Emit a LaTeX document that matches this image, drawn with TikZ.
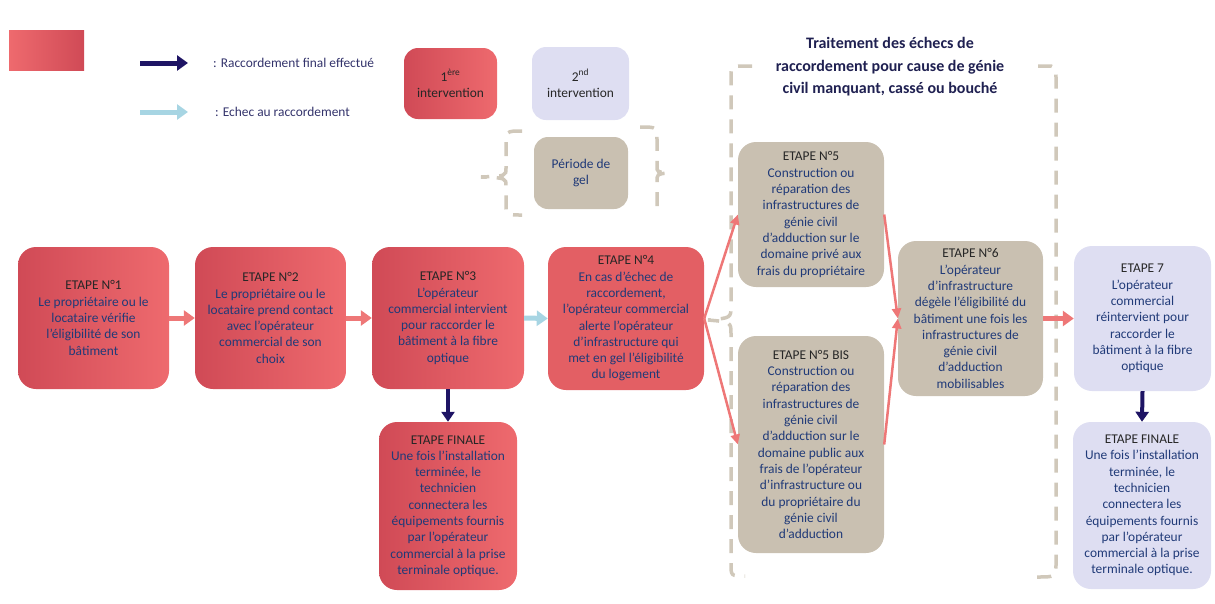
\documentclass[tikz,border=0pt]{standalone}
\usepackage{fontspec}
\setmainfont{Carlito}
\usetikzlibrary{arrows.meta}
\definecolor{redD}{HTML}{D04A56}
\definecolor{redL}{HTML}{EE6A6E}
\definecolor{redM}{HTML}{E35F64}
\definecolor{taupe}{HTML}{C9C0B1}
\definecolor{lav}{HTML}{DEDEF2}
\definecolor{navyA}{HTML}{1E1464}
\definecolor{lblue}{HTML}{A7D5E3}
\definecolor{salmon}{HTML}{EE7777}
\definecolor{bodyc}{HTML}{203A78}
\definecolor{headc}{HTML}{262626}
\definecolor{legc}{HTML}{33336B}
\definecolor{titc}{HTML}{1F2051}
\definecolor{brk}{HTML}{D0C8BA}
\newcommand{\hd}[1]{{\color{headc}#1}}
\tikzset{
  box/.style={rounded corners=18pt, align=center, inner sep=0pt, text=bodyc,
    font=\fontsize{13.4}{16.3}\selectfont},
  redbox/.style={box, left color=redD, right color=redL},
  taupebox/.style={box, fill=taupe},
  lavbox/.style={box, fill=lav},
  fat/.style={line width=5pt, -{Triangle[width=15pt,length=11pt]}},
  thin/.style={line width=2.5pt, salmon, -{Triangle[width=9pt,length=10pt]}},
  down/.style={line width=4pt, navyA, -{Triangle[width=13pt,length=10pt]}},
  brkline/.style={brk, line width=3.5pt, dash pattern=on 14pt off 10pt},
  legtxt/.style={anchor=west, text=legc, font=\fontsize{13.4}{16.3}\selectfont, inner sep=0pt}
}
\begin{document}
\begin{tikzpicture}[x=1pt,y=-1pt]
\useasboundingbox (0,0) rectangle (1215,603);
% legend
\node[left color=redL, right color=redD, minimum width=75pt, minimum height=40pt, inner sep=0pt] (legrect) at (46.5,50) {};
\coordinate (la1) at (140,63); \coordinate (la2) at (188,63);
\coordinate (lb1) at (140,112); \coordinate (lb2) at (188,112);
\draw[fat, navyA] (la1) -- (la2);
\draw[fat, lblue] (lb1) -- (lb2);
\node[legtxt] (legt1) at (213,63) {: Raccordement final effectué};
\node[legtxt] (legt2) at (215,112) {: Echec au raccordement};
\node[redbox, minimum width=93pt, minimum height=71pt, rounded corners=14pt] (int1) at (450.5,83.5) {\hd{1\textsuperscript{ère}}\\\hd{intervention}};
\node[lavbox, minimum width=97pt, minimum height=73pt, rounded corners=14pt] (int2) at (580.5,83.5) {\hd{2\textsuperscript{nd}}\\\hd{intervention}};
\node[taupebox, minimum width=94pt, minimum height=72pt, rounded corners=14pt] (gel) at (581,173) {Période de\\gel};
% small bracket
\draw[brkline] (522,131) .. controls (506,131) .. (506,146) -- (506,168) .. controls (506,176) .. (481,177) .. controls (506,178) .. (506,186) -- (506,205) .. controls (506,215) .. (522,215);
\draw[brkline] (640,127) .. controls (657,127) .. (657,140) -- (657,166) .. controls (657,172) .. (668,173) .. controls (657,174) .. (657,182) -- (657,215);
% big bracket
\draw[brkline] (752,66) -- (740,66) .. controls (731,66) .. (731,80) -- (731,306) .. controls (731,318) .. (708,320) .. controls (731,322) .. (731,334) -- (731,564) .. controls (731,576) .. (745,576);
\draw[brkline] (1038,66) -- (1045,66) .. controls (1056,66) .. (1056,80) -- (1056,564) .. controls (1056,577) .. (1036,577);
\node[align=center, text=titc, font=\bfseries\fontsize{16}{22.5}\selectfont, inner sep=0pt] (title) at (890,67) {Traitement des échecs de\\raccordement pour cause de génie\\civil manquant, cassé ou bouché};
% main boxes
\node[redbox, minimum width=151pt, minimum height=142pt] (e1) at (93.5,318) {\hd{ETAPE N°1}\\Le propriétaire ou le\\locataire vérifie\\l’éligibilité de son\\bâtiment};
\node[redbox, minimum width=151pt, minimum height=142pt] (e2) at (270.5,318) {\hd{ETAPE N°2}\\Le propriétaire ou le\\locataire prend contact\\avec l’opérateur\\commercial de son\\choix};
\node[redbox, minimum width=152pt, minimum height=142pt] (e3) at (448,318) {\hd{ETAPE N°3}\\L’opérateur\\commercial intervient\\pour raccorder le\\bâtiment à la fibre\\optique};
\node[box, fill=redM, minimum width=156pt, minimum height=143pt] (e4) at (626,318.5) {\hd{ETAPE N°4}\\En cas d’échec de\\raccordement,\\l’opérateur commercial\\alerte l’opérateur\\d’infrastructure qui\\met en gel l’éligibilité\\du logement};
\node[taupebox, minimum width=146pt, minimum height=145pt] (e5) at (811,214.5) {\hd{ETAPE N°5}\\Construction ou\\réparation des\\infrastructures de\\génie civil\\d’adduction sur le\\domaine privé aux\\frais du propriétaire};
\node[taupebox, minimum width=146pt, minimum height=217pt] (e5b) at (811,444.5) {\hd{ETAPE N°5 BIS}\\Construction ou\\réparation des\\infrastructures de\\génie civil\\d’adduction sur le\\domaine public aux\\frais de l’opérateur\\d’infrastructure ou\\du propriétaire du\\génie civil\\d’adduction};
\node[taupebox, minimum width=145pt, minimum height=155pt] (e6) at (970.5,318.5) {\hd{ETAPE N°6}\\L’opérateur\\d’infrastructure\\dégèle l’éligibilité du\\bâtiment une fois les\\infrastructures de\\génie civil\\d’adduction\\mobilisables};
\node[lavbox, minimum width=137pt, minimum height=145pt] (e7) at (1142.5,318.5) {\hd{ETAPE 7}\\L’opérateur\\commercial\\réintervient pour\\raccorder le\\bâtiment à la fibre\\optique};
\node[redbox, minimum width=138pt, minimum height=168pt] (ef1) at (448,506) {\hd{ETAPE FINALE}\\Une fois l’installation\\terminée, le\\technicien\\connectera les\\équipements fournis\\par l’opérateur\\commercial à la prise\\terminale optique.};
\node[lavbox, minimum width=138pt, minimum height=167pt] (ef2) at (1142,505.5) {\hd{ETAPE FINALE}\\Une fois l’installation\\terminée, le\\technicien\\connectera les\\équipements fournis\\par l’opérateur\\commercial à la prise\\terminale optique.};
% connectors
\draw[fat, salmon] (e1.east) -- (e2.west);
\draw[fat, salmon] (e2.east) -- (e3.west);
\draw[fat, lblue] (e3.east) -- (e4.west);
\draw[thin] (e4.east) -- (e5.west);
\draw[thin] (e4.east) -- (e5b.west);
\draw[thin] (e5.east) -- (e6.west);
\draw[thin] (e5b.east) -- (e6.west);
\draw[fat, salmon] (e6.east) -- (e7.west);
\draw[down] (e3.south) -- (ef1.north);
\draw[down] (e7.south) -- (ef2.north);
\end{tikzpicture}
\end{document}
